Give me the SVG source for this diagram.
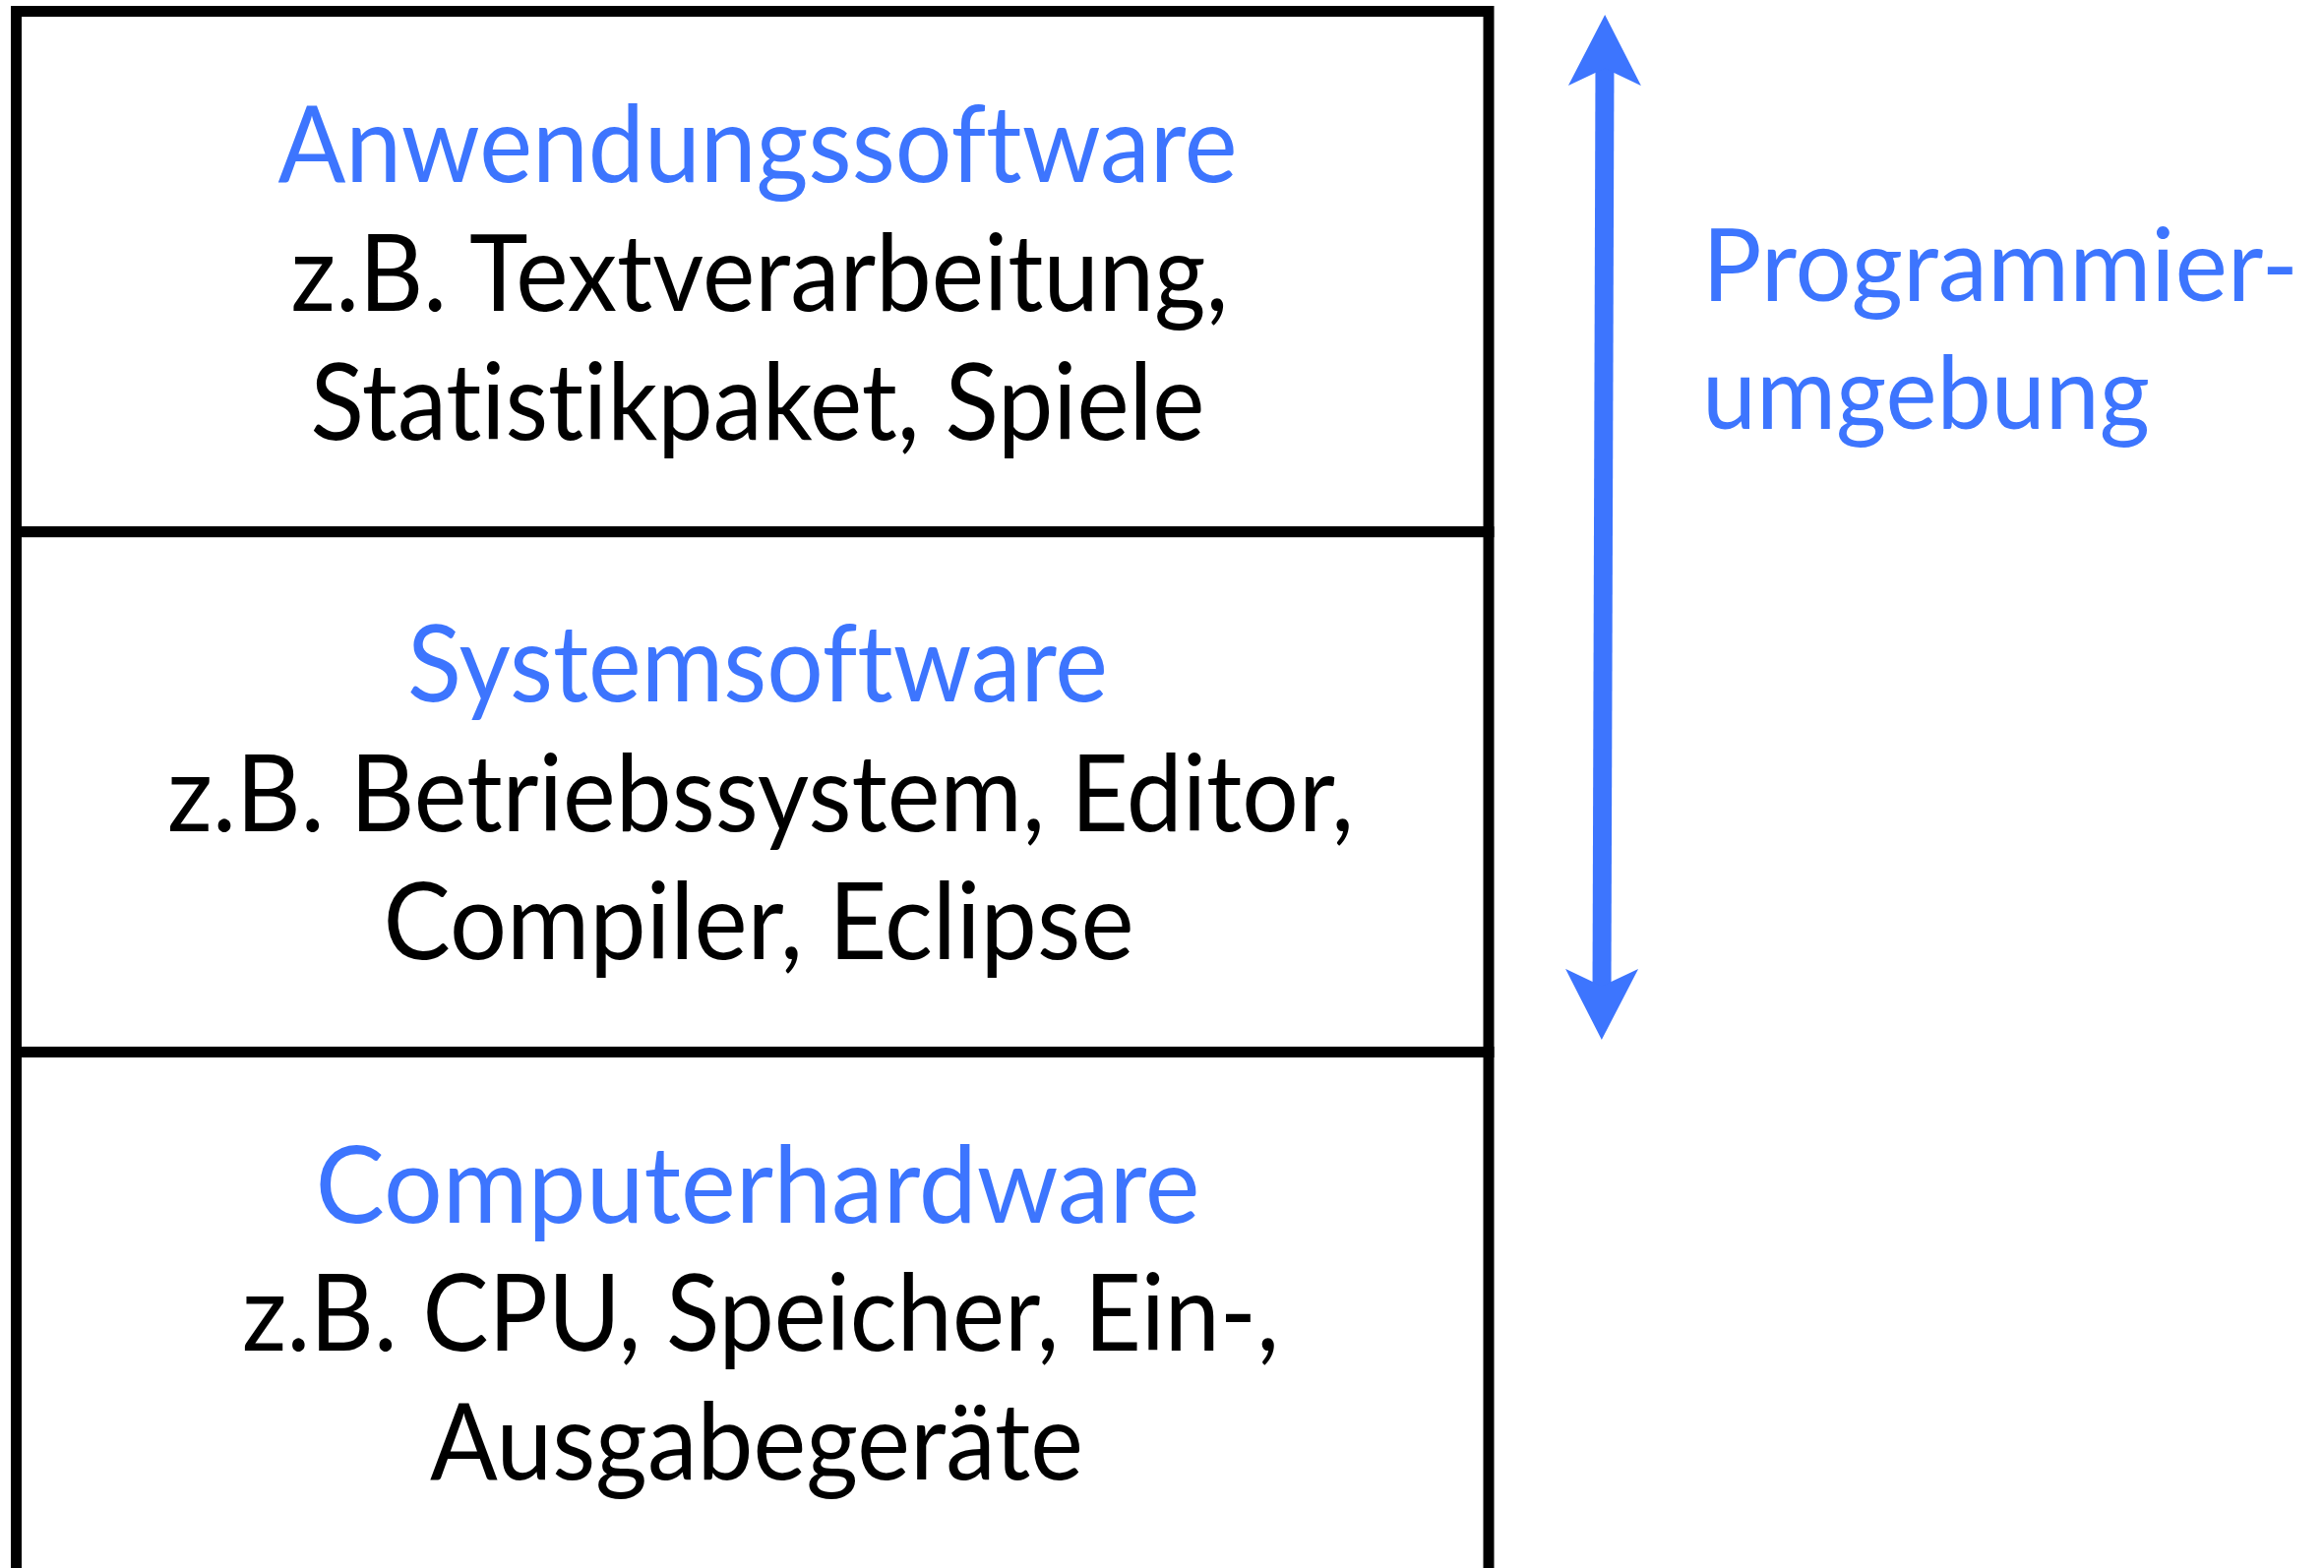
<svg xmlns="http://www.w3.org/2000/svg" width="2362" height="1594" viewBox="0 0 2362 1594">
  <style>
    .layer { fill: #ffffff; stroke: #000000; stroke-width: 11; }
    .t { font-family: Lato, "Noto Sans", "Liberation Sans", sans-serif; font-size: 108px; text-anchor: middle; font-variant-ligatures: none; }
    .title { fill: #3d75fe; }
    .body { fill: #000000; }
    .side { font-family: Lato, "Noto Sans", "Liberation Sans", sans-serif; font-size: 103px; fill: #3d75fe; font-variant-ligatures: none; }
    .conn { stroke: #3d75fe; stroke-width: 19; fill: none; }
  </style>
  <defs>
    <marker id="head" markerUnits="userSpaceOnUse" markerWidth="80" markerHeight="80" viewBox="0 -40 80 80" refX="22" refY="0" orient="auto-start-reverse">
      <path d="M72,0 L0,-37 L17.5,0 L0,37 Z" fill="#3d75fe"/>
    </marker>
  </defs>
  <rect x="0" y="0" width="2362" height="1594" fill="#ffffff"/>

  <g id="anwendungssoftware">
    <rect class="layer" x="16.5" y="11.5" width="1496.5" height="529.2"/>
    <text class="t title" x="770" y="185" textLength="975" lengthAdjust="spacingAndGlyphs">Anwendungssoftware</text>
    <text class="t body" x="772" y="316" textLength="953" lengthAdjust="spacingAndGlyphs">z.B. Textverarbeitung,</text>
    <text class="t body" x="770" y="447" textLength="909" lengthAdjust="spacingAndGlyphs">Statistikpaket, Spiele</text>
  </g>

  <g id="systemsoftware">
    <rect class="layer" x="16.5" y="540.7" width="1496.5" height="528.8"/>
    <text class="t title" x="770" y="713" textLength="712" lengthAdjust="spacingAndGlyphs">Systemsoftware</text>
    <text class="t body" x="773" y="845" textLength="1206" lengthAdjust="spacingAndGlyphs">z.B. Betriebssystem, Editor,</text>
    <text class="t body" x="771" y="975" textLength="763" lengthAdjust="spacingAndGlyphs">Compiler, Eclipse</text>
  </g>

  <g id="computerhardware">
    <rect class="layer" x="16.5" y="1069.5" width="1496.5" height="560"/>
    <text class="t title" x="770" y="1243" textLength="899" lengthAdjust="spacingAndGlyphs">Computerhardware</text>
    <text class="t body" x="773" y="1373" textLength="1054" lengthAdjust="spacingAndGlyphs">z.B. CPU, Speicher, Ein-,</text>
    <text class="t body" x="769" y="1504" textLength="664" lengthAdjust="spacingAndGlyphs">Ausgabegeräte</text>
  </g>

  <g id="programmierumgebung">
    <text class="side" x="1730" y="306" textLength="606" lengthAdjust="spacingAndGlyphs">Programmier-</text>
    <text class="side" x="1730" y="436" textLength="455" lengthAdjust="spacingAndGlyphs">umgebung</text>
  </g>

  <g id="connectors">
    <line class="conn" x1="1631" y1="65" x2="1628" y2="1007" marker-start="url(#head)" marker-end="url(#head)"/>
  </g>
</svg>
